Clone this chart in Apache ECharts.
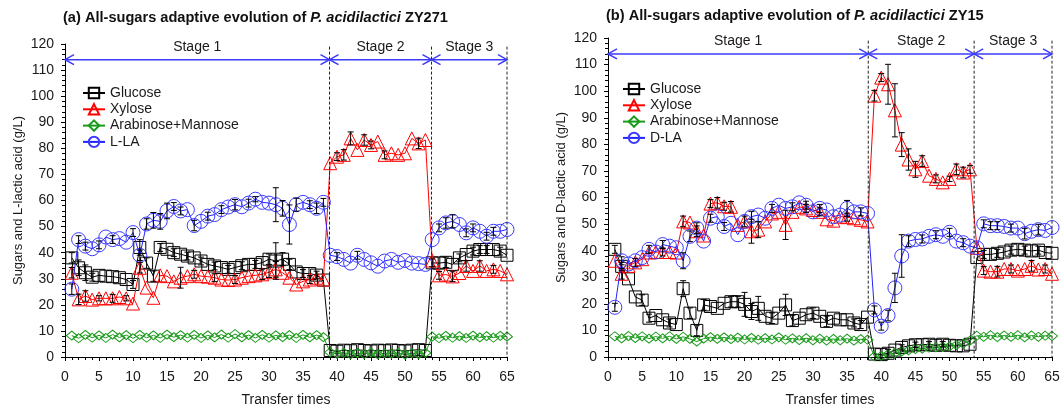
<!DOCTYPE html>
<html><head><meta charset="utf-8">
<script src="https://cdn.jsdelivr.net/npm/echarts@6/dist/echarts.min.js"></script>
<style>html,body{margin:0;padding:0;background:#fff}#c{width:1064px;height:412px}</style>
</head><body><div id="c"></div>
<script>
// ---------- DATA ----------
const transfers = [1,2,3,4,5,6,7,8,9,10,11,12,13,14,15,16,17,18,19,20,21,22,23,24,25,26,27,28,29,30,31,32,33,34,35,36,37,38,39,40,41,42,43,44,45,46,47,48,49,50,51,52,53,54,55,56,57,58,59,60,61,62,63,64,65];
const xTicks = [0,5,10,15,20,25,30,35,40,45,50,55,60,65];
const yTicks = [0,10,20,30,40,50,60,70,80,90,100,110,120];
const stageLabels = ['Stage 1','Stage 2','Stage 3'];
const stageEdgesA = [0, 38.9, 53.9, 65];
const stageEdgesB = [0, 38.1, 53.6, 65];
const stageArrowY = 114;

// Panel (a) ZY271
const glucoseA = [38,34.2,32.3,30.6,31.3,31,30.8,30.4,29.7,27.8, 42,36,31,42,41.3,40,39.4,38.7,38,36.8, 35.5,34.9,34.3,33.6,34.3,35,35.5,35.5,36.2,37.5, 36.8,37.5,35.5,32.6,32,32,31.4,29.5,
  2.5,2.2,2.6,2.4,2.8,2.5,2.3,2.6,2.4,2.7,2.5,2.3,2.6,2.8,2.5,
  36.1,36,36.3,35.5,38,39.3,40.6,41.2,41.2,41.2,40.6,39];
const xyloseA = [32.3,22.1,23.4,22,22.5,22.5,22.5,23,22.5,20.5, 34.2,26.6,22.7,31.3,31,29,30.4,31,31.7,31, 30.8,30.4,29.7,29.5,29.7,30.4,31,31.3,31.7,32.5, 33.6,32.3,30.4,27.8,29,29.7,30.4,29.7,
  74.3,76.8,77.5,83.8,79.4,83.2,81.3,82.6,77.5,78.1,77.5,78.1,83.8,81.9,83.2,
  37,31.3,31.6,30.9,32.2,34.9,33,34.9,33,33.6,33,31.7];
const arabA = [8.2,7.2,8.5,7.4,8.3,7.3,8.6,7.5,8.4,7.2, 8.5,7.4,8.3,7.3,8.6,7.6,8.4,7.4,8.5,7.3, 8.3,7.5,8.6,7.4,8.8,7.5,8.4,7.3,8.5,7.4, 8.3,7.6,8.4,7.3,8.5,7.5,8.4,7.6,
  1.8,1.2,1.6,1.0,1.5,1.1,1.7,1.0,1.4,1.2,1.6,0.9,1.5,1.1,1.6,
  7.8,7.2,8.1,7.4,8.0,7.3,8.2,7.5,8.0,7.4,8.1,7.8];
const laA = [26,45,42.5,41.5,43,46,45,45.4,44,47.7, 39,51,52.4,52,56,57.7,56,56.5,50.4,52, 54,54.6,56.5,57.5,58.4,57.6,59,60.5,59.3,59, 58.4,57,50.8,58.4,59.3,58.4,57,59.3,
  39,38.5,37.4,36,39,37.4,36.1,34.8,36.8,37.4,36.3,37,36,35.8,35.5,
  45,49.5,51.4,52,50.8,47.6,49.5,48.2,46.3,48.2,48.2,48.9];
// error bars: [transfer, sd]
const errGluA = [[1,2],[2,3],[3,3],[4,1.5],[10,1.5],[11,3],[12,2],[13,2],[14,1.5],[16,1.5],[18,1.5],[20,1.5],[22,1.5],[24,1.5],[26,1.5],[28,1.5],[30,2],[31,7],[32,2.5],[33,2],[35,1.5],[37,1.5],[54,1.5],[56,2],[58,1.5],[60,1.5],[61,1.5],[62,1.5],[64,1.5]];
const errXylA = [[1,2],[2,2],[3,2],[5,1],[7,1.5],[9,1],[11,2],[17,4],[19,1.5],[22,1.5],[25,1.5],[29,2],[30,2],[31,3],[36,1.5],[40,1.5],[41,2],[42,2.5],[44,2],[45,1.5],[47,1.5],[52,2],[55,1.5],[57,2],[59,2],[61,2],[63,1.5]];
const errLaA = [[1,2],[2,1.5],[3,1.5],[5,1.5],[7,1.5],[10,1.5],[11,2],[12,2],[13,3],[14,3],[15,3],[16,1.5],[17,1.5],[19,2],[21,1.5],[23,1.5],[25,2],[27,1.5],[28,1],[31,6.5],[32,3],[33,7.5],[34,2.5],[36,1.5],[37,2],[38,1.5],[40,1.5],[43,1.5],[55,1.5],[56,2],[57,2.5],[59,1.5],[60,1.5],[62,1.5],[63,1.5]];

// Panel (b) ZY15
const glucoseB = [40.5,34.1,29.4,22.6,21.4,14.6,15.6,14,12.8,12.2, 25.7,16.5,10,19.6,19,18.3,20.2,20.8,20.8,19.8, 17.1,18.3,15.3,14.6,16.5,19.6,13.7,14.6,15.9,16.5, 15.3,13.4,14.6,14,14,12.8,12.2,15,
  1.1,0.9,1.4,2.6,3.6,4.2,4.6,4.6,4.8,4.4,4.8,4.4,4.2,4.2,4.8,
  37.4,38.6,38.6,39,39.5,40.2,40.5,40.2,39.9,40.2,39.3,39];
const xyloseB = [36.2,31.3,34.3,35.6,36.8,39.3,39.5,39.5,39.5,39.3, 51,50.6,47.3,45.7,57.7,58,56.7,56.5,49.7,51, 47.3,47.9,51,54,54.6,49.7,54.6,56.5,55.9,55.3, 54.6,51.8,51.3,52.8,52.6,52.2,51.6,51,
  98.3,105.1,102.6,92.8,79.9,74.3,70.6,73.7,68.2,67,65.7,67,70.6,69.4,70.6,
  41.1,32.5,32.1,32.1,33.1,33.1,32.5,33.1,34.3,32.9,33.1,31.3];
const arabB = [7.8,7.0,7.9,7.1,7.8,6.9,7.7,7.0,7.8,6.8, 7.6,6.8,5.8,6.9,7.5,6.8,7.4,6.7,7.3,6.6, 7.2,6.5,7.1,6.6,7.4,6.5,7.0,6.4,7.1,6.3, 6.9,6.2,6.8,6.3,6.9,6.2,6.7,6.5,
  0.2,0.4,1.0,1.5,2.0,2.5,3.0,3.2,3.5,3.6,3.8,4.0,4.5,5.0,6.2,
  8.0,7.6,8.2,7.5,8.1,7.6,8.2,7.4,8.1,7.6,8.0,7.9];
const dlaB = [18.7,36.2,35,36.2,37.4,40.5,39.5,42.3,41.7,41.1, 36.2,45.4,48.5,43.6,52.2,52.8,49.1,50.3,46,51, 52.8,53.4,52.2,55.9,57.1,55.9,56.5,58,57.1,54.6, 55.9,55.3,52.8,53.4,55.9,54.6,54.6,54,
  17.7,11.6,15.6,26,38,43.6,44.2,44.4,45.4,46,45.4,46.9,43.6,43,41.7,
  41.1,50.1,49.4,49.4,49.1,48.5,48.5,46.4,47.3,47.9,47.6,48.7];
const errGluB = [[1,1.5],[2,1.5],[5,2],[6,1.5],[9,1.5],[11,3],[12,2],[13,2],[14,2],[18,2],[19,2],[20,4.5],[21,3],[22,4.5],[24,2],[26,4],[27,2],[30,2],[32,2],[36,1.5],[37,1.5],[41,1.5],[43,1],[45,1],[47,1],[49,1],[55,1.5],[57,1.5],[59,1.5],[61,1.5],[63,1.5]];
const errXylB = [[2,2],[4,1.5],[8,1.5],[11,2],[13,2],[15,1.5],[16,2],[17,1.5],[18,2],[20,2],[21,4.5],[22,3],[26,5.5],[29,1.5],[31,1.5],[35,1.5],[39,2],[40,1.5],[41,7.5],[42,10],[43,4.5],[44,4],[45,3],[46,2],[48,1.5],[50,1],[51,2],[52,2],[53,1.5],[55,1.5],[57,2],[59,1.5],[62,2],[64,1.5]];
const errDlaB = [[1,1.5],[2,1.5],[6,1.5],[8,1.5],[11,3],[12,2],[13,2],[15,1.5],[17,1.5],[21,2],[24,1.5],[27,1.5],[29,1.5],[31,1.5],[35,3],[37,1.5],[39,1.5],[40,1.5],[41,2],[42,5.5],[43,8],[44,2],[46,1.5],[48,1.5],[50,1.5],[52,1.5],[55,1.5],[56,1.5],[57,1.5],[59,1.5],[61,2],[63,2]];

// ---------- CHART ----------
const FONT = '"Liberation Sans", Arial, sans-serif';
const TXT = '#1a1a1a';
const C = {glu:'#000000', xyl:'#ff0000', ara:'#1a9a1a', la:'#2222ff', laM:'#3b3bff', stage:'#3b3bff'};

function pairs(vals){ return transfers.map((t,i)=>[t, vals[i]]); }

function lineSeries(name, vals, idx, symbol, size, lineColor, markColor, z){
  return {
    type:'line', name, xAxisIndex:idx, yAxisIndex:idx, data:pairs(vals),
    symbol, symbolSize:size, showAllSymbol:true, z,
    lineStyle:{color:lineColor, width:1},
    itemStyle:{color:'rgba(255,255,255,0)', borderColor:markColor, borderWidth:1},
    emphasis:{disabled:true}, animation:false
  };
}

function errRender(params, api){
  const t=api.value(0), v=api.value(1), e=api.value(2);
  const top=api.coord([t, v+e]), bot=api.coord([t, v-e]);
  const w=3, st={stroke:'#000', lineWidth:1};
  return {type:'group', children:[
    {type:'line', shape:{x1:top[0],y1:top[1],x2:bot[0],y2:bot[1]}, style:st},
    {type:'line', shape:{x1:top[0]-w,y1:top[1],x2:top[0]+w,y2:top[1]}, style:st},
    {type:'line', shape:{x1:bot[0]-w,y1:bot[1],x2:bot[0]+w,y2:bot[1]}, style:st}
  ]};
}
function errSeries(err, vals, idx){
  return {type:'custom', xAxisIndex:idx, yAxisIndex:idx, renderItem:errRender, z:5, silent:true, animation:false,
    encode:{x:0,y:1}, data: err.map(([t,e])=>[t, vals[t-1], e])};
}

function stageRender(params, api){
  const a=api.coord([api.value(0), api.value(2)]), b=api.coord([api.value(1), api.value(2)]);
  const lab=stageLabels[api.value(3)];
  const c=C.stage, h=5, l=9;
  const st={stroke:c, lineWidth:1.5, fill:'none'};
  const top=api.coord([api.value(1), 119]), bottom=api.coord([api.value(1), 0]);
  return {type:'group', children:[
    {type:'line', shape:{x1:top[0],y1:top[1],x2:bottom[0],y2:bottom[1]}, style:{stroke:'#222', lineWidth:1, lineDash:[3,2]}},
    {type:'line', shape:{x1:a[0],y1:a[1],x2:b[0],y2:b[1]}, style:st},
    {type:'polyline', shape:{points:[[a[0]+l,a[1]-h],[a[0],a[1]],[a[0]+l,a[1]+h]]}, style:st},
    {type:'polyline', shape:{points:[[b[0]-l,b[1]-h],[b[0],b[1]],[b[0]-l,b[1]+h]]}, style:st},
    {type:'text', x:(a[0]+b[0])/2, y:a[1]-6, style:{text:lab, fill:TXT, font:'14px '+FONT, align:'center', verticalAlign:'bottom'}}
  ]};
}
function stageSeries(edges, idx){
  const d=[];
  for(let i=0;i<edges.length-1;i++) d.push([edges[i], edges[i+1], stageArrowY, i]);
  return {type:'custom', xAxisIndex:idx, yAxisIndex:idx, renderItem:stageRender, clip:false, silent:true, z:6, animation:false,
    encode:{x:[0,1], y:2}, data:d};
}

function xAxis(idx){
  return {type:'value', gridIndex:idx, min:xTicks[0], max:xTicks[xTicks.length-1], interval:xTicks[1]-xTicks[0],
    name:'Transfer times', nameLocation:'middle', nameGap:36,
    nameTextStyle:{fontFamily:FONT, fontSize:14, color:TXT},
    axisLine:{lineStyle:{color:'#000', width:1}},
    axisTick:{show:true, length:4, inside:false, lineStyle:{color:'#000'}},
    minorTick:{show:true, splitNumber:5, length:3, lineStyle:{color:'#000'}},
    axisLabel:{fontFamily:FONT, fontSize:14, color:TXT, margin:13},
    splitLine:{show:false}};
}
function yAxis(idx, name){
  return {type:'value', gridIndex:idx, min:yTicks[0], max:yTicks[yTicks.length-1], interval:yTicks[1]-yTicks[0],
    name, nameLocation:'middle', nameGap:40,
    nameTextStyle:{fontFamily:FONT, fontSize:13, color:TXT},
    axisLine:{show:true, lineStyle:{color:'#000', width:1}},
    axisTick:{show:true, length:4, lineStyle:{color:'#000'}},
    minorTick:{show:true, splitNumber:5, length:3, lineStyle:{color:'#000'}},
    axisLabel:{fontFamily:FONT, fontSize:14, color:TXT, margin:11},
    splitLine:{show:false}};
}
function title(left, top, tag, strain){
  return {left, top, padding:0, text:'{b|'+tag+' All-sugars adaptive evolution of }{i|P. acidilactici}{b| '+strain+'}',
    textStyle:{rich:{
      b:{fontFamily:FONT, fontSize:14.6, fontWeight:'bold', color:'#111'},
      i:{fontFamily:FONT, fontSize:14.6, fontWeight:'bold', fontStyle:'italic', color:'#111'}}}};
}
function legend(left, top, names){
  return {data:names, left, top, padding:0, orient:'vertical', itemWidth:22, itemHeight:13, itemGap:2.3,
    textStyle:{fontFamily:FONT, fontSize:14, color:TXT}, selectedMode:false};
}

const chart = echarts.init(document.getElementById('c'), null, {renderer:'canvas'});
chart.setOption({
  animation:false,
  backgroundColor:'#fff',
  title:[title(63, 10, '(a)', 'ZY271'), title(606, 8, '(b)', 'ZY15')],
  legend:[legend(82, 86, ['Glucose','Xylose','Arabinose+Mannose','L-LA']),
          legend(622, 82, ['Glucose','Xylose','Arabinose+Mannose','D-LA'])],
  grid:[{left:65, top:44, width:442, height:314}, {left:608, top:38, width:444, height:325}],
  xAxis:[xAxis(0), xAxis(1)],
  yAxis:[yAxis(0,'Sugars and L-lactic acid (g/L)'), yAxis(1,'Sugars and D-lactic acid (g/L)')],
  series:[
    lineSeries('Glucose', glucoseA, 0, 'rect', 12, C.glu, C.glu, 2),
    lineSeries('Xylose', xyloseA, 0, 'triangle', 13, C.xyl, C.xyl, 3),
    lineSeries('Arabinose+Mannose', arabA, 0, 'diamond', [11,9], C.ara, C.ara, 2),
    lineSeries('L-LA', laA, 0, 'circle', 14, C.la, C.laM, 4),
    errSeries(errGluA, glucoseA, 0), errSeries(errXylA, xyloseA, 0), errSeries(errLaA, laA, 0),
    stageSeries(stageEdgesA, 0),
    lineSeries('Glucose', glucoseB, 1, 'rect', 12, C.glu, C.glu, 2),
    lineSeries('Xylose', xyloseB, 1, 'triangle', 13, C.xyl, C.xyl, 3),
    lineSeries('Arabinose+Mannose', arabB, 1, 'diamond', [11,9], C.ara, C.ara, 2),
    lineSeries('D-LA', dlaB, 1, 'circle', 14, C.la, C.laM, 4),
    errSeries(errGluB, glucoseB, 1), errSeries(errXylB, xyloseB, 1), errSeries(errDlaB, dlaB, 1),
    stageSeries(stageEdgesB, 1)
  ]
});
</script>
</body></html>
